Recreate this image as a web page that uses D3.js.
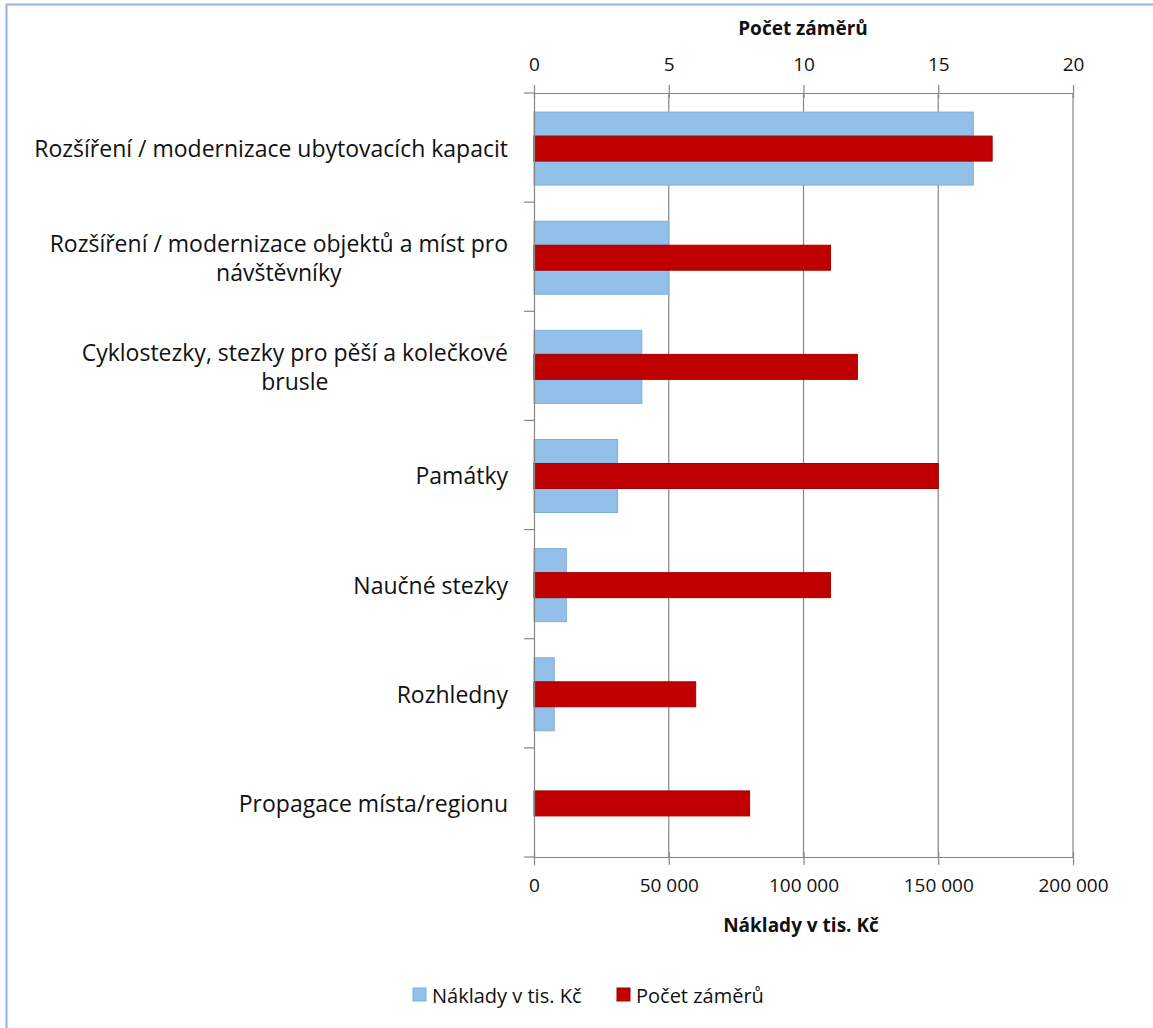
<!DOCTYPE html>
<html><head><meta charset="utf-8">
<script src="https://cdn.jsdelivr.net/npm/d3@7"></script>
<style>body{margin:0;background:#fff;} text{font-family:"Open Sans",sans-serif;}</style>
</head><body>
<svg id="c" width="1153" height="1028"></svg>
<script>
const categories = [
  ["Rozšíření / modernizace ubytovacích kapacit"],
  ["Rozšíření / modernizace objektů a míst pro", "návštěvníky"],
  ["Cyklostezky, stezky pro pěší a kolečkové", "brusle"],
  ["Památky"],
  ["Naučné stezky"],
  ["Rozhledny"],
  ["Propagace místa/regionu"]
];
const naklady = [163000, 50000, 40000, 31000, 12000, 7500, 0];
const pocet = [17, 11, 12, 15, 11, 6, 8];
const costTicks = [0, 50000, 100000, 150000, 200000];
const countTicks = [0, 5, 10, 15, 20];
const seriesNames = ["Náklady v tis. Kč", "Počet záměrů"];
const colors = ["#93C0E8", "#C00000"];
const strokes = ["#7FAEDC", "#A00000"];

const svg = d3.select("#c");
const L = 534, R = 1073, T = 93, B = 857;
const fmt = d => d3.format(",")(d).replace(/,/g, " ");

// border
svg.append("path").attr("d", `M6.5,1028 V4.5 H1153`).attr("fill","none").attr("stroke","#8DB4E2").attr("stroke-width",2);

const x1 = d3.scaleLinear().domain([0,200000]).range([L,R]);
const x2 = d3.scaleLinear().domain([0,20]).range([L,R]);
const y = d3.scaleBand().domain(d3.range(categories.length)).range([T,B]).paddingInner(0).paddingOuter(0);

// gridlines
svg.append("g").selectAll("line").data(costTicks.slice(1)).join("line")
  .attr("x1", d=>x1(d)).attr("x2", d=>x1(d)).attr("y1", T).attr("y2", B)
  .attr("stroke","#868686").attr("stroke-width",1.2);

// bars
const bw = 73, rw = 25;
svg.append("g").selectAll("rect").data(naklady).join("rect")
  .attr("x", x1(0)).attr("width", d=>Math.max(0,x1(d)-x1(0)))
  .attr("y", (d,i)=>y(i)+y.bandwidth()/2-bw/2+1).attr("height", d=> d>0?bw:0)
  .attr("fill", colors[0]).attr("stroke", strokes[0]).attr("stroke-width",1);
svg.append("g").selectAll("rect").data(pocet).join("rect")
  .attr("x", x2(0)).attr("width", d=>x2(d)-x2(0))
  .attr("y", (d,i)=>y(i)+y.bandwidth()/2-rw/2+1).attr("height", rw)
  .attr("fill", colors[1]).attr("stroke", strokes[1]).attr("stroke-width",1);

// axes
const axStyle = g => {
  g.select(".domain").attr("stroke","#868686").attr("stroke-width",1.2);
  g.selectAll(".tick line").attr("stroke","#868686").attr("stroke-width",1.2);
  g.selectAll(".tick text").attr("font-size",19).attr("fill","#111").style("font-family","'Open Sans',sans-serif");
};
const gBottom = svg.append("g").attr("transform",`translate(0,${B})`)
  .call(d3.axisBottom(x1).tickValues(costTicks).tickFormat(fmt).tickSizeOuter(0).tickSizeInner(8).tickPadding(14));
gBottom.call(axStyle);
gBottom.selectAll(".tick line").attr("y1",-5);
const gTop = svg.append("g").attr("transform",`translate(0,${T})`)
  .call(d3.axisTop(x2).tickValues(countTicks).tickSizeOuter(0).tickSizeInner(8).tickPadding(14));
gTop.call(axStyle);
gTop.selectAll(".tick line").attr("y1",5);
const gLeft = svg.append("g").attr("transform",`translate(${L},0)`)
  .call(d3.axisLeft(y).tickValues([]).tickSizeOuter(0));
gLeft.call(axStyle);
// category boundary ticks
svg.append("g").selectAll("line").data(d3.range(categories.length+1)).join("line")
  .attr("x1", L-10).attr("x2", L).attr("y1", i=> i<categories.length? y(i): B).attr("y2", i=> i<categories.length? y(i): B)
  .attr("stroke","#868686").attr("stroke-width",1.2);

// category labels
const lab = svg.append("g");
categories.forEach((lines,i)=>{
  const cy = y(i)+y.bandwidth()/2;
  const lh = 29;
  const g = lab.append("g");
  const texts = lines.map((t,j)=> g.append("text").text(t).attr("font-size",23).attr("fill","#111")
      .attr("y", cy + (j - (lines.length-1)/2)*lh).attr("dominant-baseline","central").attr("dy","0.02em"));
  const maxW = d3.max(texts, t=>t.node().getComputedTextLength());
  texts.forEach(t=> t.attr("x", 508 - maxW/2).attr("text-anchor","middle"));
});

// titles
svg.append("text").text("Počet záměrů").attr("x", 803).attr("y", 35).attr("text-anchor","middle")
  .attr("font-size",19).attr("font-weight","bold").attr("fill","#111");
svg.append("text").text("Náklady v tis. Kč").attr("x", 801).attr("y", 932).attr("text-anchor","middle")
  .attr("font-size",19).attr("font-weight","bold").attr("fill","#111");

// legend
const leg = svg.append("g");
const legX = [413, 617];
seriesNames.forEach((n,i)=>{
  leg.append("rect").attr("x", legX[i]).attr("y", 988).attr("width",13).attr("height",13)
    .attr("fill", colors[i]).attr("stroke", strokes[i]);
  leg.append("text").text(n).attr("x", legX[i]+19).attr("y", 995).attr("dominant-baseline","central")
    .attr("font-size",20).attr("fill","#111");
});
</script>
</body></html>
